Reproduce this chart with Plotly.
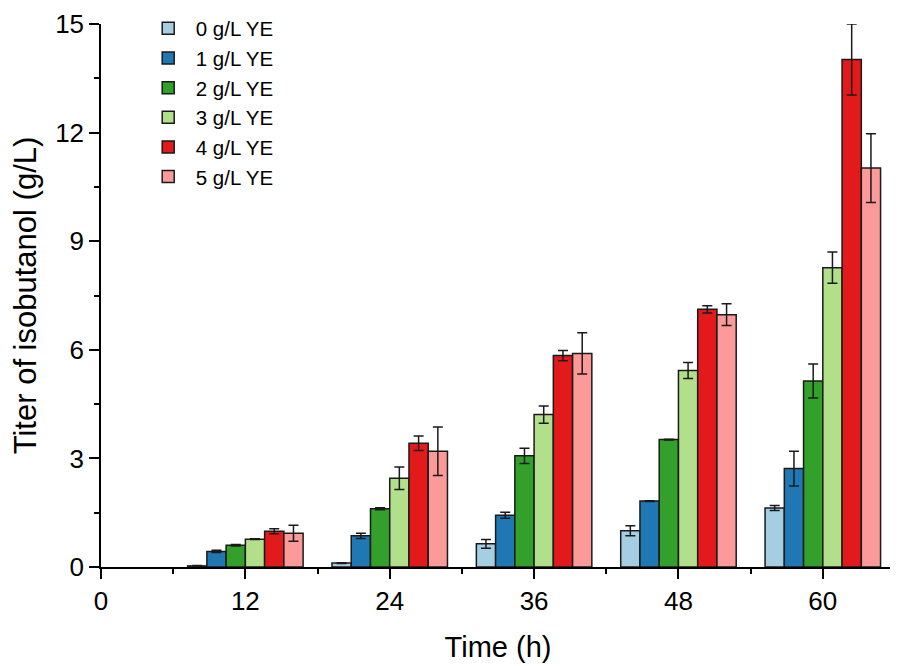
import plotly.graph_objects as go

times = [12, 24, 36, 48, 60]
series_names = ["0 g/L YE", "1 g/L YE", "2 g/L YE", "3 g/L YE", "4 g/L YE", "5 g/L YE"]
colors = ["#a6cee3", "#1f78b4", "#33a02c", "#b2df8a", "#e31a1c", "#fb9a99"]

ye0 = [0.03, 0.11, 0.64, 1.00, 1.63]
ye1 = [0.43, 0.86, 1.43, 1.82, 2.72]
ye2 = [0.60, 1.61, 3.07, 3.52, 5.14]
ye3 = [0.77, 2.45, 4.21, 5.43, 8.27]
ye4 = [0.99, 3.42, 5.84, 7.12, 14.02]
ye5 = [0.93, 3.20, 5.90, 6.97, 11.02]

err0 = [0.01, 0.01, 0.12, 0.14, 0.07]
err1 = [0.03, 0.07, 0.08, 0.01, 0.48]
err2 = [0.02, 0.03, 0.21, 0.01, 0.47]
err3 = [0.01, 0.31, 0.24, 0.22, 0.43]
err4 = [0.07, 0.20, 0.14, 0.10, 0.98]
err5 = [0.22, 0.67, 0.57, 0.30, 0.95]

values = [ye0, ye1, ye2, ye3, ye4, ye5]
errors = [err0, err1, err2, err3, err4, err5]

FONT = "Liberation Sans, Arial, sans-serif"
EDGE = "#1a1a1a"

fig = go.Figure()
for name, col, v, e in zip(series_names, colors, values, errors):
    fig.add_trace(go.Bar(
        x=times, y=v, name=name,
        marker=dict(color=col, line=dict(color=EDGE, width=1.5)),
        error_y=dict(type="data", array=e, visible=True, color=EDGE, thickness=1.5, width=5),
    ))

# page body has an 8px default margin; size/margins compensate for it
fig.update_layout(
    width=890, height=658,
    margin=dict(l=93, r=3, t=16, b=99, autoexpand=False),
    paper_bgcolor="white", plot_bgcolor="white",
    barmode="group", bargap=0.2, bargroupgap=0,
    font=dict(family=FONT, color="black"),
    legend=dict(
        x=0.05, y=1.0285, xanchor="left", yanchor="top",
        font=dict(size=20.5, family=FONT, color="black"),
        bgcolor="rgba(0,0,0,0)", traceorder="normal",
        itemwidth=45,
    ),
    xaxis=dict(
        range=[0, 66], tickvals=[0, 12, 24, 36, 48, 60],
        showline=True, linecolor="black", linewidth=1.5,
        ticks="outside", ticklen=10, tickwidth=1.5, tickcolor="black",
        minor=dict(tickvals=[6, 18, 30, 42, 54], ticks="outside", ticklen=5, tickwidth=1.5, tickcolor="black"),
        showgrid=False, zeroline=False, automargin=True, ticklabeloverflow="allow",
        tickfont=dict(size=26, family=FONT),
        title=dict(text="Time (h)", font=dict(size=29, family=FONT), standoff=22),
    ),
    yaxis=dict(
        range=[0, 15], tickvals=[0, 3, 6, 9, 12, 15],
        showline=True, linecolor="black", linewidth=1.5,
        ticks="outside", ticklen=10, tickwidth=1.5, tickcolor="black",
        minor=dict(tickvals=[1.5, 4.5, 7.5, 10.5, 13.5], ticks="outside", ticklen=5, tickwidth=1.5, tickcolor="black"),
        showgrid=False, zeroline=False, automargin=True, ticklabeloverflow="allow",
        tickfont=dict(size=26, family=FONT),
        title=dict(text="Titer of isobutanol (g/L)", font=dict(size=31, family=FONT), standoff=15),
    ),
)

fig.write_html("out.html")
